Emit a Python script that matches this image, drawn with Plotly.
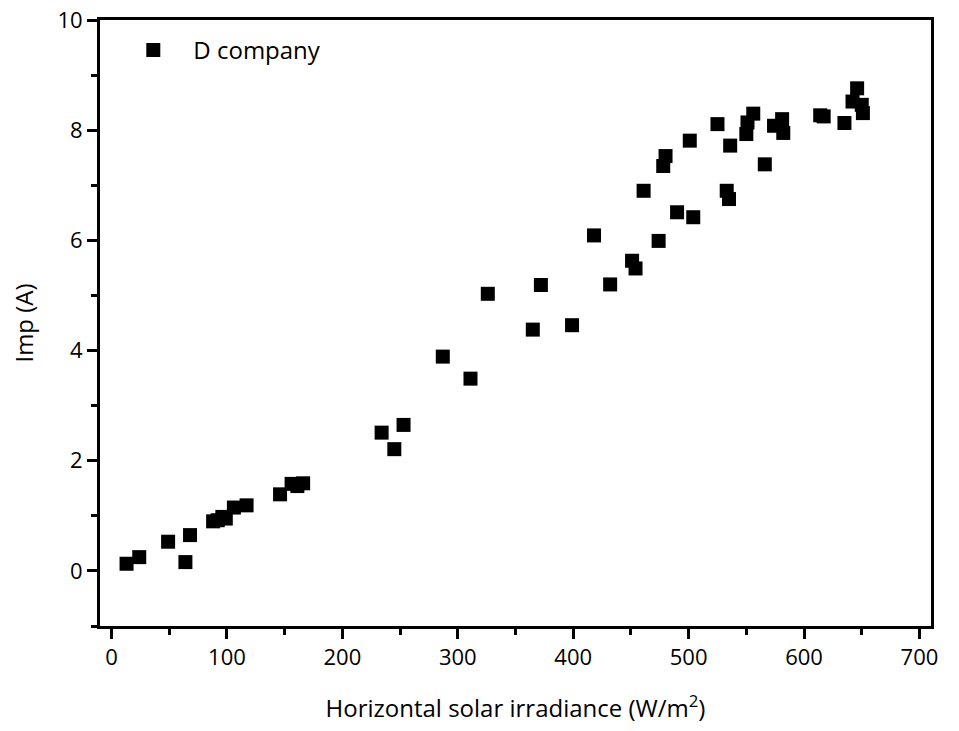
import plotly.graph_objects as go

irradiance = [13, 24, 49, 64, 68, 88, 92, 96, 99, 106, 117, 146, 156, 161, 166,
              234, 245, 253, 287, 311, 326, 365, 372, 399, 418, 432, 451, 454,
              461, 474, 478, 480, 490, 501, 504, 525, 533, 535, 536, 550, 551,
              556, 566, 574, 581, 582, 614, 617, 635, 642, 646, 650, 651]
imp = [0.13, 0.25, 0.53, 0.16, 0.65, 0.90, 0.92, 0.98, 0.95, 1.15, 1.19, 1.39, 1.58, 1.54, 1.59,
       2.51, 2.21, 2.65, 3.89, 3.49, 5.03, 4.38, 5.19, 4.46, 6.09, 5.20, 5.63, 5.49,
       6.90, 5.99, 7.35, 7.53, 6.51, 7.81, 6.42, 8.11, 6.90, 6.75, 7.72, 7.93, 8.14,
       8.30, 7.38, 8.08, 8.20, 7.95, 8.27, 8.25, 8.13, 8.52, 8.76, 8.46, 8.31]
series_name = "D company"
x_title = "Horizontal solar irradiance (W/m<sup>2</sup>)"
y_title = "Imp (A)"

FONT = "Open Sans"

fig = go.Figure()
fig.add_trace(go.Scatter(
    x=irradiance, y=imp, mode="markers", name=series_name,
    marker=dict(symbol="square", size=14, color="black", line=dict(width=0)),
))

axis_common = dict(
    showgrid=False, zeroline=False, showline=True, linecolor="black", linewidth=3,
    mirror=True, ticks="outside", tickwidth=3, ticklen=10, tickcolor="black",
    tickfont=dict(family=FONT, size=22, color="black"), automargin=False,
)

fig.update_xaxes(
    range=[-10, 710], tick0=0, dtick=100,
    minor=dict(ticks="outside", ticklen=6, tickwidth=3, tickcolor="black", dtick=50, tick0=0),
    title=dict(text=x_title, font=dict(family=FONT, size=24, color="black"), standoff=30),
    **axis_common,
)
fig.update_yaxes(
    range=[-1, 10], tick0=0, dtick=2,
    minor=dict(ticks="outside", ticklen=6, tickwidth=3, tickcolor="black", dtick=1, tick0=0),
    title=dict(text=y_title, font=dict(family=FONT, size=24, color="black"), standoff=18),
    **axis_common,
)

fig.update_layout(
    width=959, height=731,
    margin=dict(l=100, r=28, t=20, b=105),
    paper_bgcolor="white", plot_bgcolor="white",
    showlegend=True,
    legend=dict(x=0.016, y=0.95, xanchor="left", yanchor="middle", itemwidth=70,
                bgcolor="rgba(0,0,0,0)",
                font=dict(family=FONT, size=24, color="black")),
)

fig.write_html("out.html", config={"displayModeBar": False},
               post_script="document.body.style.margin='0';")
